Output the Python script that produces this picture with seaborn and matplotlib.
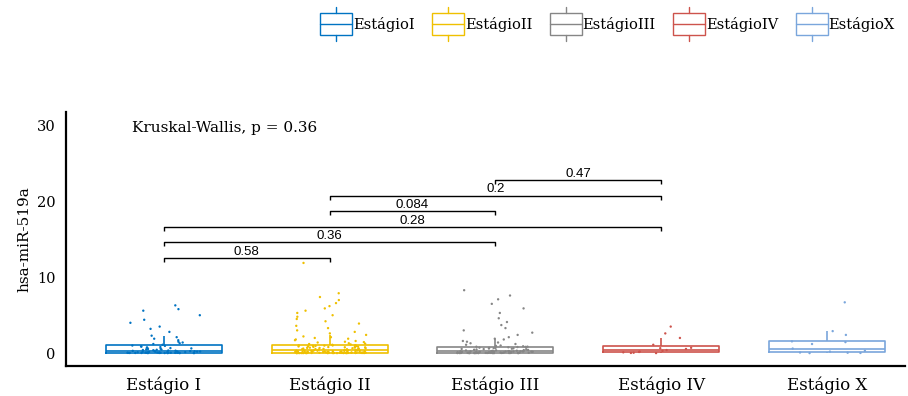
import numpy as np
import pandas as pd
import matplotlib
matplotlib.use("Agg")
import matplotlib.pyplot as plt
from matplotlib.legend_handler import HandlerBase
from matplotlib.patches import Rectangle, Patch
from matplotlib.lines import Line2D
import seaborn as sns

# Expression of hsa-miR-519a by tumour stage
stages = ["Estágio I", "Estágio II", "Estágio III", "Estágio IV", "Estágio X"]
legend_labels = ["EstágioI", "EstágioII", "EstágioIII", "EstágioIV", "EstágioX"]
palette = ["#0073C2", "#EFC000", "#868686", "#CD534C", "#7AA6DC"]

stage_i = [0.0, 0.0, 0.0, 0.01, 0.01, 0.01, 0.02, 0.02, 0.02, 0.02, 0.03, 0.03,
           0.03, 0.04, 0.04, 0.04, 0.05, 0.05,
           0.06, 0.07, 0.08, 0.09, 0.1, 0.11, 0.12, 0.13, 0.15, 0.16, 0.18, 0.19,
           0.21, 0.22, 0.24, 0.26, 0.28, 0.3,
           0.32, 0.35, 0.38, 0.41, 0.44, 0.47, 0.5, 0.54, 0.58, 0.62, 0.66, 0.7,
           0.75, 0.8, 0.85, 0.9, 0.95, 1.0,
           1.1, 1.2, 1.3, 1.4, 1.5, 1.7, 1.9, 2.1, 2.3, 2.8, 3.2, 3.5, 4.0, 4.4,
           5.0, 5.6, 5.8, 6.3]

stage_ii = [0.0, 0.0, 0.0, 0.0, 0.0, 0.0, 0.0, 0.0, 0.01, 0.01, 0.01, 0.01, 0.01,
            0.01, 0.02, 0.02, 0.02, 0.02, 0.02, 0.03, 0.03, 0.03, 0.03, 0.03, 0.04,
            0.04, 0.04, 0.04, 0.04, 0.05, 0.05, 0.05, 0.05, 0.06, 0.06,
            0.07, 0.07, 0.08, 0.08, 0.09, 0.1, 0.1, 0.11, 0.12, 0.12, 0.13, 0.14,
            0.15, 0.15, 0.16, 0.17, 0.18, 0.19, 0.2, 0.2, 0.21, 0.22, 0.23, 0.24,
            0.25, 0.26, 0.27, 0.28, 0.29, 0.3, 0.31, 0.32, 0.33, 0.34, 0.35,
            0.37, 0.38, 0.41, 0.44, 0.45, 0.47, 0.5, 0.51, 0.53, 0.56, 0.57, 0.6,
            0.61, 0.64, 0.65, 0.68, 0.69, 0.72, 0.73, 0.76, 0.77, 0.8, 0.81, 0.83,
            0.86, 0.88, 0.89, 0.92, 0.94, 0.95, 0.97, 0.99, 1.01, 1.03, 1.05,
            1.1, 1.15, 1.2, 1.25, 1.3, 1.4, 1.45, 1.5, 1.6, 1.7, 1.8, 1.9, 2.0,
            2.1, 2.2, 2.4, 2.6, 2.8, 3.0, 3.3, 3.6, 3.9, 4.2, 4.5, 4.8, 5.0, 5.3,
            5.6, 5.9, 6.2, 6.6, 7.0, 7.4, 7.9, 11.9]

stage_iii = [0.0, 0.0, 0.0, 0.0, 0.0, 0.0, 0.01, 0.01, 0.01, 0.01, 0.01, 0.02,
             0.02, 0.02, 0.02, 0.02, 0.03, 0.03, 0.03, 0.03, 0.03, 0.04, 0.04,
             0.04, 0.04,
             0.05, 0.06, 0.07, 0.08, 0.09, 0.1, 0.11, 0.12, 0.13, 0.14, 0.15,
             0.16, 0.17, 0.18, 0.19, 0.2, 0.2, 0.21, 0.22, 0.22, 0.23, 0.24,
             0.24, 0.25, 0.25,
             0.27, 0.3, 0.32, 0.35, 0.37, 0.4, 0.42, 0.45, 0.48, 0.5, 0.53, 0.55,
             0.58, 0.6, 0.63, 0.65, 0.68, 0.7, 0.72, 0.75, 0.77, 0.8, 0.82, 0.84,
             0.85,
             0.9, 0.95, 1.0, 1.1, 1.2, 1.3, 1.4, 1.5, 1.6, 1.8, 1.9, 2.1, 2.4,
             2.7, 3.0, 3.3, 3.7, 4.1, 4.6, 5.3, 5.9, 6.5, 7.1, 7.6, 8.3]

stage_iv = [0.0, 0.02, 0.05, 0.1, 0.15, 0.2, 0.3, 0.4, 0.55, 0.65, 0.7, 1.1,
            2.0, 2.6, 3.5]

stage_x = [0.0, 0.02, 0.05, 0.08, 0.2, 0.3, 0.6, 1.2, 1.45, 1.55, 2.4, 2.9, 6.7]

# Pairwise Wilcoxon comparisons: (group a, group b, bracket height, p-value)
pair_a = [0, 0, 0, 1, 1, 2]
pair_b = [1, 2, 3, 2, 3, 3]
bracket_y = [12.5, 14.6, 16.6, 18.7, 20.7, 22.8]
pair_p = ["0.58", "0.36", "0.28", "0.084", "0.2", "0.47"]

kruskal_label = "Kruskal-Wallis, p = 0.36"

values = [stage_i, stage_ii, stage_iii, stage_iv, stage_x]
df = pd.DataFrame({
    "stage": np.concatenate([[s] * len(v) for s, v in zip(stages, values)]),
    "value": np.concatenate(values),
})

sns.set_theme(style="white")
plt.rcParams["font.family"] = ["DejaVu Serif"]
plt.rcParams["text.color"] = "black"
plt.rcParams["axes.labelcolor"] = "black"

fig = plt.figure(figsize=(9.08, 3.96), dpi=100)
ax = fig.add_axes([0.0727, 0.0758, 0.924, 0.641])

sns.boxplot(data=df, x="stage", y="value", hue="stage", order=stages,
            hue_order=stages, palette=palette, fill=False, width=0.7,
            showfliers=False, linewidth=1.2, legend=False, ax=ax,
            capprops={"visible": False})

np.random.seed(3)
sns.stripplot(data=df, x="stage", y="value", hue="stage", order=stages,
              hue_order=stages, palette=palette, jitter=0.23, size=1.7,
              linewidth=0, legend=False, ax=ax, zorder=3)

# Comparison brackets with p-values
tick = 0.45
for a, b, y, p in zip(pair_a, pair_b, bracket_y, pair_p):
    ax.plot([a, a, b, b], [y - tick, y, y, y - tick], color="black", lw=1.0,
            solid_capstyle="butt")
    ax.text((a + b) / 2, y + 0.1, p, ha="center", va="bottom",
            fontsize=9.5, family="Liberation Sans", color="black")

ax.text(-0.19, 29.7, kruskal_label, ha="left", va="center", fontsize=11,
        color="black")

ax.set_xlim(-0.59, 4.47)
ax.set_ylim(-1.7, 31.8)
ax.set_yticks([0, 10, 20, 30])
ax.set_xlabel("")
ax.set_ylabel("hsa-miR-519a", fontsize=11)
ax.tick_params(axis="both", direction="out", length=4, width=1.5,
               color="black", labelsize=10.5, labelcolor="black")
ax.tick_params(axis="x", labelsize=12)
for side in ["top", "right"]:
    ax.spines[side].set_visible(False)
for side in ["left", "bottom"]:
    ax.spines[side].set_color("black")
    ax.spines[side].set_linewidth(1.6)


class BoxGlyph(HandlerBase):
    def create_artists(self, legend, orig_handle, xdescent, ydescent,
                       width, height, fontsize, trans):
        c = orig_handle.get_edgecolor()
        x0, y0 = -xdescent, -ydescent
        lo, hi = y0 - 0.35 * height, y0 + 1.35 * height
        box = Rectangle((x0, lo), width, hi - lo, facecolor="white",
                        edgecolor=c, lw=1.0, transform=trans)
        mid = Line2D([x0, x0 + width], [(lo + hi) / 2] * 2, color=c, lw=1.0,
                     transform=trans)
        xc = x0 + width / 2
        w1 = Line2D([xc, xc], [hi, hi + 0.45 * height], color=c, lw=1.0,
                    transform=trans)
        w2 = Line2D([xc, xc], [lo, lo - 0.45 * height], color=c, lw=1.0,
                    transform=trans)
        return [box, mid, w1, w2]


handles = [Patch(edgecolor=c, facecolor="white") for c in palette]
leg = fig.legend(handles, legend_labels, handler_map={Patch: BoxGlyph()},
                 loc="center", bbox_to_anchor=(0.669, 0.939), ncol=5,
                 frameon=False, fontsize=10.5, handlelength=2.2,
                 handleheight=1.0, handletextpad=0.05, columnspacing=1.2)
for t in leg.get_texts():
    t.set_color("black")

fig.savefig("out.png", dpi=100)
